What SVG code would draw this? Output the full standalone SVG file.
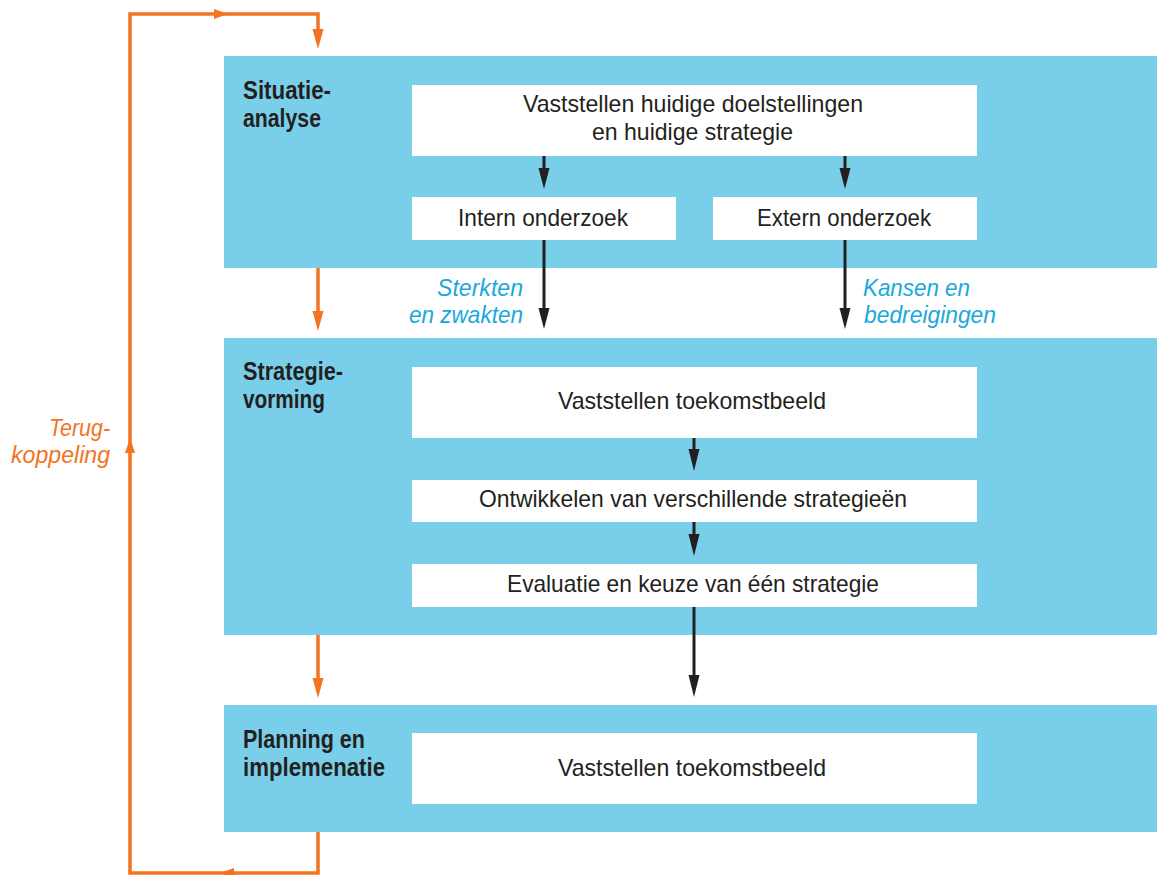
<svg xmlns="http://www.w3.org/2000/svg" width="1157" height="875" viewBox="0 0 1157 875">
<style>
.panel{fill:#79CFEA}
.box{fill:#FFFFFF}
.t{font-family:"Liberation Sans",Arial,sans-serif;font-size:24px;fill:#231F20}
.b{font-family:"Liberation Sans",Arial,sans-serif;font-size:25px;font-weight:bold;fill:#231F20}
.c{font-family:"Liberation Sans",Arial,sans-serif;font-size:24px;font-style:italic;fill:#1AA8DC}
.o{font-family:"Liberation Sans",Arial,sans-serif;font-size:24px;font-style:italic;fill:#F37321}
.k{stroke:#231F20;stroke-width:3;fill:none}
.ka{fill:#231F20}
.or{stroke:#F37321;stroke-width:3.5;fill:none}
.oa{fill:#F37321}
</style>
<rect width="1157" height="875" fill="#FFFFFF"/>
<g id="panel-situatie">
<rect class="panel" x="224" y="56" width="933" height="212"/>
<text class="b" x="243" y="99" textLength="88" lengthAdjust="spacingAndGlyphs">Situatie-</text>
<text class="b" x="243" y="127" textLength="78" lengthAdjust="spacingAndGlyphs">analyse</text>
</g>
<g id="panel-strategie">
<rect class="panel" x="224" y="338" width="933" height="297"/>
<text class="b" x="243" y="380" textLength="100" lengthAdjust="spacingAndGlyphs">Strategie-</text>
<text class="b" x="243" y="408" textLength="82" lengthAdjust="spacingAndGlyphs">vorming</text>
</g>
<g id="panel-planning">
<rect class="panel" x="224" y="705" width="933" height="127"/>
<text class="b" x="243" y="748" textLength="122" lengthAdjust="spacingAndGlyphs">Planning en</text>
<text class="b" x="243" y="776" textLength="142" lengthAdjust="spacingAndGlyphs">implemenatie</text>
</g>
<g id="node-huidige">
<rect class="box" x="412" y="85" width="565" height="71"/>
<text class="t" x="523" y="112" textLength="340" lengthAdjust="spacingAndGlyphs">Vaststellen huidige doelstellingen</text>
<text class="t" x="592" y="140" textLength="201" lengthAdjust="spacingAndGlyphs">en huidige strategie</text>
</g>
<g id="node-intern">
<rect class="box" x="412" y="197" width="264" height="43"/>
<text class="t" x="458" y="226" textLength="170" lengthAdjust="spacingAndGlyphs">Intern onderzoek</text>
</g>
<g id="node-extern">
<rect class="box" x="713" y="197" width="264" height="43"/>
<text class="t" x="757" y="226" textLength="174" lengthAdjust="spacingAndGlyphs">Extern onderzoek</text>
</g>
<g id="node-toekomst1">
<rect class="box" x="412" y="367" width="565" height="71"/>
<text class="t" x="558" y="409" textLength="268" lengthAdjust="spacingAndGlyphs">Vaststellen toekomstbeeld</text>
</g>
<g id="node-ontwikkelen">
<rect class="box" x="412" y="480" width="565" height="42"/>
<text class="t" x="479" y="507" textLength="428" lengthAdjust="spacingAndGlyphs">Ontwikkelen van verschillende strategieën</text>
</g>
<g id="node-evaluatie">
<rect class="box" x="412" y="564" width="565" height="43"/>
<text class="t" x="507" y="592" textLength="372" lengthAdjust="spacingAndGlyphs">Evaluatie en keuze van één strategie</text>
</g>
<g id="node-toekomst2">
<rect class="box" x="412" y="733" width="565" height="71"/>
<text class="t" x="558" y="776" textLength="268" lengthAdjust="spacingAndGlyphs">Vaststellen toekomstbeeld</text>
</g>
<g id="labels">
<text class="c" x="437" y="296" textLength="86" lengthAdjust="spacingAndGlyphs">Sterkten</text>
<text class="c" x="409" y="323" textLength="114" lengthAdjust="spacingAndGlyphs">en zwakten</text>
<text class="c" x="863" y="296" textLength="107" lengthAdjust="spacingAndGlyphs">Kansen en</text>
<text class="c" x="864" y="323" textLength="132" lengthAdjust="spacingAndGlyphs">bedreigingen</text>
<text class="o" x="49" y="436" textLength="61" lengthAdjust="spacingAndGlyphs">Terug-</text>
<text class="o" x="11" y="463" textLength="99" lengthAdjust="spacingAndGlyphs">koppeling</text>
</g>
<g id="connectors">
<line class="k" x1="544" y1="156" x2="544" y2="172"/>
<polygon class="ka" points="538.5,168 549.5,168 544,189"/>
<line class="k" x1="845" y1="156" x2="845" y2="172"/>
<polygon class="ka" points="839.5,168 850.5,168 845,189"/>
<line class="k" x1="544" y1="240" x2="544" y2="312"/>
<polygon class="ka" points="538.5,308 549.5,308 544,329"/>
<line class="k" x1="845" y1="240" x2="845" y2="312"/>
<polygon class="ka" points="839.5,308 850.5,308 845,329"/>
<line class="k" x1="694" y1="438" x2="694" y2="453"/>
<polygon class="ka" points="688.5,449 699.5,449 694,471"/>
<line class="k" x1="694" y1="522" x2="694" y2="538"/>
<polygon class="ka" points="688.5,534 699.5,534 694,556"/>
<line class="k" x1="694" y1="607" x2="694" y2="680"/>
<polygon class="ka" points="688.5,675 699.5,675 694,697"/>
<line class="or" x1="318" y1="268" x2="318" y2="314"/>
<polygon class="oa" points="312.5,311 323.5,311 318,331"/>
<line class="or" x1="318" y1="635" x2="318" y2="681"/>
<polygon class="oa" points="312.5,678 323.5,678 318,698"/>
<path class="or" d="M318,832 V873 H130 V14 H318 V32"/>
<polygon class="oa" points="312.5,29 323.5,29 318,49"/>
<polygon class="oa" points="214,9 228,14 214,19"/>
<polygon class="oa" points="125,453 135,453 130,438"/>
<polygon class="oa" points="234,868 220,873 234,878"/>
</g>
</svg>
